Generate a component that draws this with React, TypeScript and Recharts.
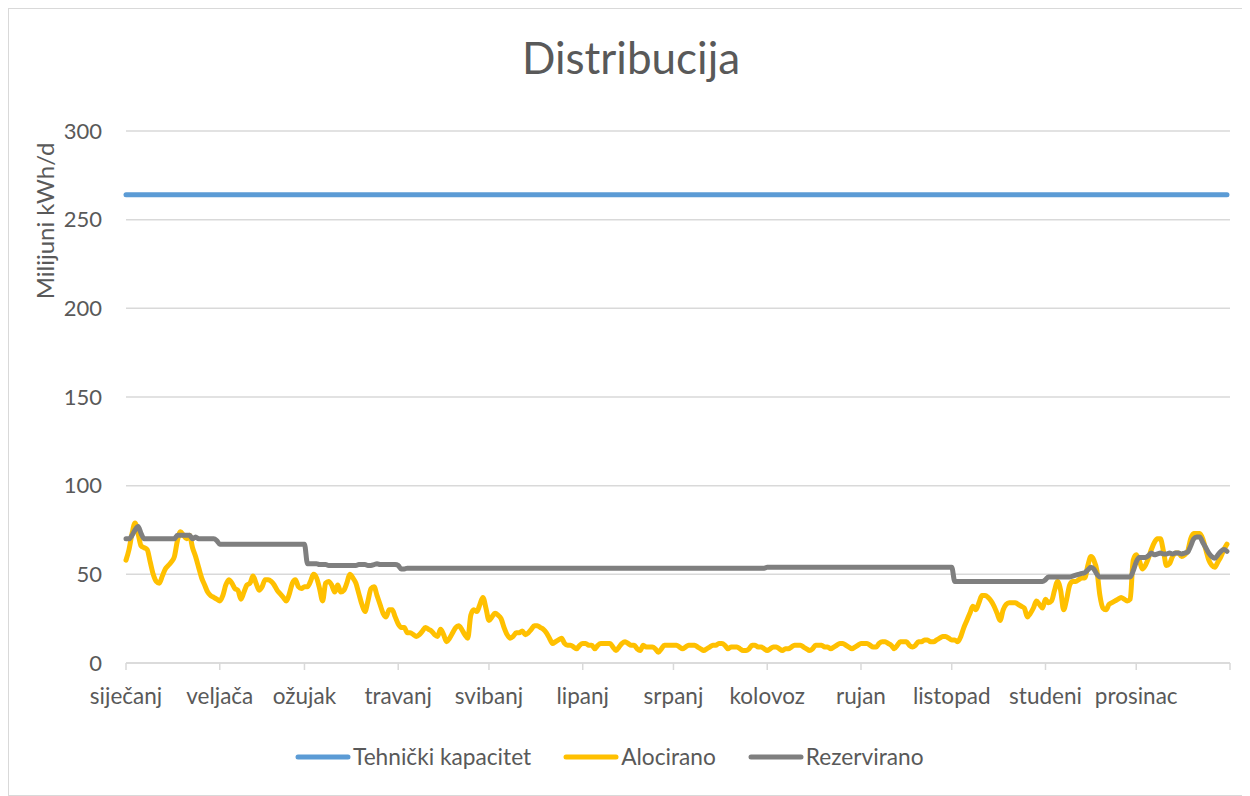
import { LineChart, Line, XAxis, YAxis, CartesianGrid } from "recharts"

const months = [
  "siječanj", "veljača", "ožujak", "travanj", "svibanj", "lipanj",
  "srpanj", "kolovoz", "rujan", "listopad", "studeni", "prosinac",
]

// first day of each month (day index in the year), last one closes the axis
const monthStarts = [0, 31, 59, 90, 120, 151, 181, 212, 243, 273, 304, 334, 365]

const yTicks = [0, 50, 100, 150, 200, 250, 300]

const tehnickiKapacitet = 264

// daily values, milijuni kWh/d
const alocirano = [
  // siječanj
  58, 64, 73, 79, 73, 66, 65, 64, 57, 50, 46, 45, 49, 53, 55, 57, 60, 69, 74, 72,
  70, 72, 65, 60, 54, 48, 44, 40, 38, 37, 36,
  // veljača
  35, 38, 44, 47, 45, 42, 41, 36, 40, 44, 45, 49, 45, 41, 43, 47, 47, 46, 44, 41,
  39, 37, 35, 39, 45, 47, 43, 42,
  // ožujak
  43, 43, 46, 50, 48, 42, 35, 45, 46, 44, 40, 44, 40, 41, 45, 50, 48, 45, 39, 33,
  29, 35, 42, 43, 38, 33, 28, 26, 30, 30, 26,
  // travanj
  22, 20, 20, 17, 17, 16, 15, 16, 18, 20, 19, 18, 16, 15, 19, 16, 12, 14, 17, 20,
  21, 19, 16, 14, 27, 30, 29, 33, 37, 31,
  // svibanj
  24, 26, 28, 27, 25, 20, 16, 14, 15, 17, 17, 18, 16, 17, 19, 21, 21, 20, 19, 17,
  14, 11, 12, 13, 14, 11, 10, 10, 9, 8, 10,
  // lipanj
  11, 11, 10, 10, 8, 10, 11, 11, 11, 11, 9, 7, 9, 11, 12, 11, 10, 10, 8, 7,
  10, 9, 9, 9, 8, 6, 8, 10, 10, 10,
  // srpanj
  10, 10, 9, 8, 9, 10, 10, 10, 9, 8, 7, 8, 9, 10, 10, 11, 11, 10, 8, 9,
  9, 9, 8, 7, 7, 8, 10, 10, 9, 9, 8,
  // kolovoz
  7, 8, 9, 9, 8, 7, 8, 8, 9, 10, 10, 10, 9, 8, 7, 8, 10, 10, 10, 9,
  9, 8, 9, 10, 11, 11, 10, 9, 8, 9, 10,
  // rujan
  11, 11, 11, 10, 9, 9, 11, 12, 12, 11, 10, 8, 10, 12, 12, 12, 10, 9, 10, 12,
  12, 13, 13, 12, 12, 13, 14, 15, 15, 14,
  // listopad
  13, 13, 12, 15, 20, 24, 28, 32, 30, 34, 38, 38, 37, 35, 32, 28, 24, 30, 33, 34,
  34, 34, 33, 32, 31, 26, 28, 31, 35, 33, 31,
  // studeni
  36, 34, 35, 41, 46, 41, 30, 36, 44, 46, 46, 47, 48, 48, 55, 60, 58, 52, 38, 31,
  30, 33, 34, 35, 36, 37, 36, 35, 36, 58,
  // prosinac
  61, 58, 53, 55, 59, 64, 68, 70, 70, 63, 55, 56, 60, 62, 62, 60, 61, 63, 70, 73,
  73, 73, 70, 64, 58, 55, 54, 57, 60, 64, 67,
]

const rezervirano = [
  // siječanj
  70, 70, 72, 75, 77, 73, 70, 70, 70, 70, 70, 70, 70, 70, 70, 70, 70, 72, 72, 72,
  72, 72, 70, 71, 70, 70, 70, 70, 70, 70, 69,
  // veljača
  67, 67, 67, 67, 67, 67, 67, 67, 67, 67, 67, 67, 67, 67, 67, 67, 67, 67, 67, 67,
  67, 67, 67, 67, 67, 67, 67, 67,
  // ožujak
  67, 56, 56, 56, 56, 55.5, 55.5, 55.5, 55, 55, 55, 55, 55, 55, 55, 55, 55, 55, 55.5, 55.5,
  55.5, 55, 55, 55.5, 56, 55.5, 55.5, 55.5, 55.5, 55.5, 55.5,
  // travanj
  55, 53, 53, 53.5, 53.5, 53.5, 53.5, 53.5, 53.5, 53.5, 53.5, 53.5, 53.5, 53.5, 53.5, 53.5, 53.5, 53.5, 53.5, 53.5,
  53.5, 53.5, 53.5, 53.5, 53.5, 53.5, 53.5, 53.5, 53.5, 53.5,
  // svibanj
  53.5, 53.5, 53.5, 53.5, 53.5, 53.5, 53.5, 53.5, 53.5, 53.5, 53.5, 53.5, 53.5, 53.5, 53.5, 53.5, 53.5, 53.5, 53.5, 53.5,
  53.5, 53.5, 53.5, 53.5, 53.5, 53.5, 53.5, 53.5, 53.5, 53.5, 53.5,
  // lipanj
  53.5, 53.5, 53.5, 53.5, 53.5, 53.5, 53.5, 53.5, 53.5, 53.5, 53.5, 53.5, 53.5, 53.5, 53.5, 53.5, 53.5, 53.5, 53.5, 53.5,
  53.5, 53.5, 53.5, 53.5, 53.5, 53.5, 53.5, 53.5, 53.5, 53.5,
  // srpanj
  53.5, 53.5, 53.5, 53.5, 53.5, 53.5, 53.5, 53.5, 53.5, 53.5, 53.5, 53.5, 53.5, 53.5, 53.5, 53.5, 53.5, 53.5, 53.5, 53.5,
  53.5, 53.5, 53.5, 53.5, 53.5, 53.5, 53.5, 53.5, 53.5, 53.5, 53.5,
  // kolovoz
  54, 54, 54, 54, 54, 54, 54, 54, 54, 54, 54, 54, 54, 54, 54, 54, 54, 54, 54, 54,
  54, 54, 54, 54, 54, 54, 54, 54, 54, 54, 54,
  // rujan
  54, 54, 54, 54, 54, 54, 54, 54, 54, 54, 54, 54, 54, 54, 54, 54, 54, 54, 54, 54,
  54, 54, 54, 54, 54, 54, 54, 54, 54, 54,
  // listopad
  54, 46, 46, 46, 46, 46, 46, 46, 46, 46, 46, 46, 46, 46, 46, 46, 46, 46, 46, 46,
  46, 46, 46, 46, 46, 46, 46, 46, 46, 46, 46,
  // studeni
  47, 48.5, 48.5, 48.5, 48.5, 48.5, 48.5, 48.5, 48.5, 49, 49.5, 50, 50.5, 51, 52.5, 54, 53, 50, 48.5, 48.5,
  48.5, 48.5, 48.5, 48.5, 48.5, 48.5, 48.5, 48.5, 48.5, 52,
  // prosinac
  57, 59.5, 59.5, 59.5, 60.5, 62, 61, 61.5, 62, 61.5, 61.5, 62, 61.5, 62, 62, 61.5, 62, 62.5, 66, 70,
  71, 71, 68, 65, 62, 60, 59, 61, 63, 64, 63,
]

const data = alocirano.map((a, i) => ({
  day: i,
  kapacitet: tehnickiKapacitet,
  alocirano: a,
  rezervirano: rezervirano[i],
}))

const series = [
  { key: "kapacitet", name: "Tehnički kapacitet", color: "#5b9bd5" },
  { key: "alocirano", name: "Alocirano", color: "#ffc000" },
  { key: "rezervirano", name: "Rezervirano", color: "#7f7f7f" },
]

const font = "Lato, 'Open Sans', sans-serif"
const textColor = "#595959"
const gridColor = "#d9d9d9"

export default function App() {
  return (
    <div
      style={{
        position: "relative",
        width: 1238,
        height: 786,
        border: `1px solid ${gridColor}`,
        background: "#fff",
        fontFamily: font,
      }}
    >
      <div
        style={{
          position: "absolute",
          top: 22,
          left: 0,
          width: 1244,
          textAlign: "center",
          fontSize: 44,
          color: textColor,
          lineHeight: "52px",
        }}
      >
        Distribucija
      </div>
      <div
        style={{
          position: "absolute",
          left: 35,
          top: 212,
          width: 0,
          height: 0,
        }}
      >
        <div
          style={{
            position: "absolute",
            transform: "translate(-50%, -50%) rotate(-90deg)",
            whiteSpace: "nowrap",
            fontSize: 24,
            color: textColor,
          }}
        >
          Milijuni kWh/d
        </div>
      </div>
      <LineChart
        width={1238}
        height={786}
        data={data}
        margin={{ top: 122, right: 17, bottom: 0, left: 0 }}
      >
        <CartesianGrid horizontal vertical={false} stroke={gridColor} strokeWidth={1.5} />
        <XAxis
          dataKey="day"
          type="number"
          domain={[0, 365]}
          ticks={monthStarts}
          interval={0}
          tickFormatter={(v: number) => months[monthStarts.indexOf(v)] ?? ""}
          height={132}
          stroke={gridColor}
          strokeWidth={1.5}
          tickSize={7}
          tickMargin={18}
          tick={{ fill: textColor, fontSize: 22.5, fontFamily: font }}
        />
        <YAxis
          domain={[0, 300]}
          ticks={yTicks}
          width={117}
          axisLine={false}
          tickLine={false}
          tickSize={6}
          tickMargin={18}
          tick={{ fill: textColor, fontSize: 22, fontFamily: font }}
        />
        {series.map((s) => (
          <Line
            key={s.key}
            dataKey={s.key}
            name={s.name}
            type="monotone"
            stroke={s.color}
            strokeWidth={5}
            strokeLinecap="round"
            strokeLinejoin="round"
            dot={false}
            activeDot={false}
            isAnimationActive={false}
          />
        ))}
      </LineChart>
      <div
        style={{
          position: "absolute",
          top: 734,
          left: 286,
          display: "flex",
          alignItems: "center",
          gap: 32,
          fontSize: 22.7,
          color: textColor,
        }}
      >
        {series.map((s) => (
          <div key={s.key} style={{ display: "flex", alignItems: "center" }}>
            <svg width={56} height={8}>
              <line
                x1={3}
                y1={4}
                x2={53}
                y2={4}
                stroke={s.color}
                strokeWidth={5}
                strokeLinecap="round"
              />
            </svg>
            <span style={{ marginLeft: 2 }}>{s.name}</span>
          </div>
        ))}
      </div>
    </div>
  )
}
